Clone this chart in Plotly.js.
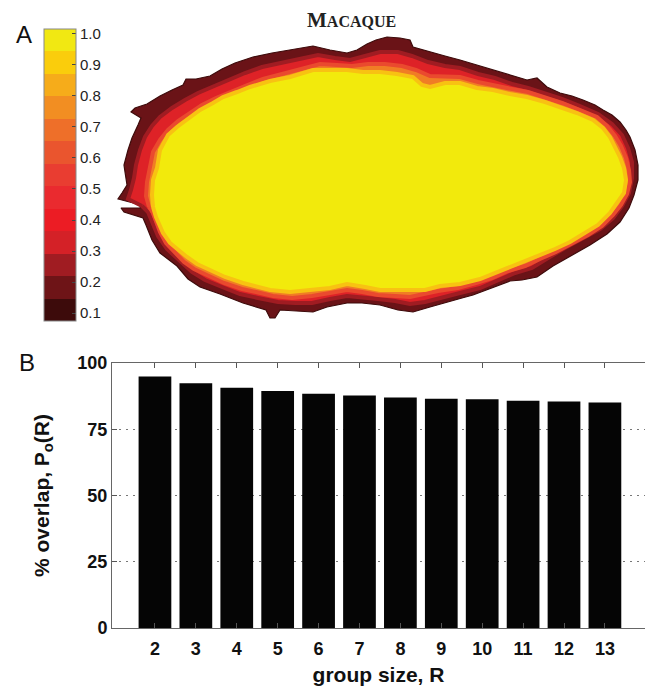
<!DOCTYPE html>
<html><head><meta charset="utf-8">
<script src="https://cdn.plot.ly/plotly-3.0.1.min.js"></script>
<style>html,body{margin:0;padding:0;background:#fff}#chart{width:645px;height:686px}</style>
</head><body><div id="chart"></div><script>
// ---- Panel B data ----
const groupSize = [2,3,4,5,6,7,8,9,10,11,12,13];
const overlapPct = [94.9,92.4,90.7,89.4,88.4,87.7,87.0,86.5,86.3,85.8,85.5,85.1];
const yTickVals = [0,25,50,75,100];

// ---- Panel A colour bar ----
const cbTickVals = [0.1,0.2,0.3,0.4,0.5,0.6,0.7,0.8,0.9,1.0];
const cbTickText = ['0.1','0.2','0.3','0.4','0.5','0.6','0.7','0.8','0.9','1.0'];
const bandColors = ['#3d0b0b','#6e1417','#a01c22','#d42127','#ec1c24','#ea2a2f','#e93d31','#ea552e','#ee6f29','#f28e22','#f6ac1a','#facd0c','#f1e812'];

// ---- Panel A map outlines (pixel coordinates) ----
const outerX = [141,118,122,127,125,124,128,132,138,141,131,135,147,160,172,183,186,196,210,222,235,253,272,290,313,330,347,357,367,376,387,400,410,413,430,445,460,477,493,512,527,537,547,560,572,583,595,603,612,620,626,630,635,638,638,634,629,620,607,590,570,553,537,522,510,492,473,462,447,430,413,398,380,362,347,327,313,295,280,275,270,266,243,220,200,188,177,160,152,146,143,124,121,140];
const outerY = [205,199,193,185,172,165,150,138,125,118,112,108,104,96,90,85,79,79,76,69,63,57,53,50,46,50,53,50,44,40,37,38,40,47,52,56,60,65,70,76,80,78,87,93,96,100,105,110,115,122,130,137,150,165,180,195,208,222,234,245,256,266,277,280,281,288,295,298,302,307,312,310,305,303,303,307,312,311,310,318,318,310,303,294,287,279,266,253,240,225,218,212,208,208];

const redX = [142,128,131,134,136,140,145,152,160,172,185,198,212,228,245,262,280,300,318,335,350,365,380,398,412,428,445,460,478,495,512,528,545,562,580,598,612,622,628,632,632,629,622,613,600,583,565,548,532,515,498,480,460,440,425,410,395,378,362,347,330,312,295,278,258,240,222,205,192,181,167,158,152,148];
const redY = [206,199,190,178,165,150,137,126,117,108,100,93,87,80,73,67,63,58,55,58,60,56,52,52,56,62,66,68,74,78,84,88,93,99,106,114,124,135,148,162,178,193,206,218,229,238,248,258,268,273,280,288,293,298,302,304,301,299,297,296,299,303,303,302,298,294,287,280,272,262,249,236,222,212];

const orangeX = [149,146,147,150,153,160,168,178,190,202,216,230,245,263,282,302,320,337,352,368,385,402,416,430,445,460,478,495,512,528,545,562,580,597,607,615,621,626,629,630,627,621,613,602,588,572,556,540,525,508,492,476,458,438,422,410,395,378,362,347,330,312,292,273,256,242,224,208,194,184,175,166,160,156,153];
const orangeY = [207,196,182,168,152,140,130,121,113,105,98,92,86,79,74,68,64,65,66,64,64,66,70,76,76,77,82,85,89,92,97,103,110,117,126,136,146,158,170,182,194,205,215,226,235,244,252,259,266,271,278,283,288,291,295,297,296,295,292,290,293,296,298,296,292,289,283,276,269,262,253,243,232,222,213];

const coreX = [153,152,153,157,160,168,177,190,200,213,223,237,250,270,290,313,330,347,363,380,397,413,422,430,445,460,477,493,510,527,545,560,577,593,603,610,615,620,624,626,624,618,610,598,585,570,555,540,525,510,495,480,460,440,425,413,395,380,365,347,330,310,290,270,255,243,225,210,197,187,178,170,163,160,156];
const coreY = [207,195,180,168,150,135,127,117,110,103,97,92,87,81,77,70,70,70,72,72,74,77,85,87,83,83,88,90,94,97,102,107,113,120,128,137,147,157,168,180,193,202,213,225,233,242,249,255,262,267,274,279,284,286,290,290,290,290,287,284,288,290,292,290,286,283,277,270,264,257,250,243,233,227,217];

function closed(a){ return a.concat([a[0]]); }
function ring(xs, ys, fill, lineColor, lineWidth){
  return {type:'scatter', mode:'lines', x:closed(xs), y:closed(ys), fill:'toself',
    fillcolor:fill, line:{color:lineColor, width:lineWidth, shape:'linear'},
    xaxis:'x2', yaxis:'y2', hoverinfo:'skip', showlegend:false};
}

// discrete colorscale
const cmin = 0.075, cmax = 1.015;
const cs = [];
bandColors.forEach((c,i)=>{ cs.push([i/bandColors.length, c]); cs.push([(i+1)/bandColors.length, c]); });

const traces = [
  ring(outerX, outerY, '#6a1317', '#3d0b0b', 1.2),
  ring(redX, redY, '#de2227', '#a01c22', 4),
  ring(orangeX, orangeY, '#f07d25', '#ea4a2e', 4),
  ring(coreX, coreY, '#f2ea0c', '#f8c212', 4),
  {type:'scatter', mode:'markers', x:[-100], y:[-100], xaxis:'x2', yaxis:'y2', hoverinfo:'skip', showlegend:false,
   marker:{color:[0.5], colorscale:cs, cmin:cmin, cmax:cmax, showscale:true, size:1,
     colorbar:{x:44/645, xanchor:'left', y:1-321/686, yanchor:'bottom', len:(321-29)/686, lenmode:'fraction',
       thickness:32, thicknessmode:'pixels', xpad:0, ypad:0, outlinewidth:1, outlinecolor:'#888',
       tickmode:'array', tickvals:cbTickVals, ticktext:cbTickText, ticks:'inside', ticklen:4, tickcolor:'#444',
       tickfont:{family:'Liberation Sans, Arial, sans-serif', size:15, color:'#222'}}}},
  {type:'bar', x:groupSize, y:overlapPct, width:0.8, marker:{color:'#050505', line:{width:0}},
   xaxis:'x', yaxis:'y', hoverinfo:'skip', showlegend:false}
];

const bold = {family:'Liberation Sans, Arial, sans-serif', weight:'bold', color:'#111'};
const layout = {
  width:645, height:686, margin:{l:0,r:0,t:0,b:0}, paper_bgcolor:'#fff', plot_bgcolor:'rgba(0,0,0,0)',
  showlegend:false,
  xaxis:{domain:[112/645, 1], range:[0.95, 13.98], tickmode:'array', tickvals:groupSize,
    ticks:'inside', ticklen:5, tickcolor:'#555', showline:true, linecolor:'#666', linewidth:1, mirror:'ticks',
    showgrid:false, zeroline:false, tickfont:Object.assign({size:18}, bold), ticklabelstandoff:4,
    title:{text:'group size, R', font:Object.assign({size:21}, bold), standoff:10}},
  yaxis:{domain:[1-628/686, 1-363/686], range:[0,100], tickmode:'array', tickvals:yTickVals,
    ticks:'inside', ticklen:5, tickcolor:'#555', showline:true, linecolor:'#666', linewidth:1, mirror:false,
    showgrid:true, gridcolor:'#777', griddash:'2px,5px', gridwidth:1, zeroline:false,
    tickfont:Object.assign({size:18}, bold),
    title:{text:'% overlap, P<sub>o</sub>(R)', font:Object.assign({size:21}, bold), standoff:22}},
  xaxis2:{domain:[0,1], range:[0,645], visible:false, fixedrange:true},
  yaxis2:{domain:[0.5,1], range:[343,0], visible:false, fixedrange:true},
  annotations:[
    {xref:'paper', yref:'paper', x:24/645, y:1-34/686, text:'A', showarrow:false, xanchor:'center', yanchor:'middle',
     font:{family:'Liberation Sans, Arial, sans-serif', size:24, color:'#111'}},
    {xref:'paper', yref:'paper', x:27/645, y:1-362/686, text:'B', showarrow:false, xanchor:'center', yanchor:'middle',
     font:{family:'Liberation Sans, Arial, sans-serif', size:24, color:'#111'}},
    {xref:'paper', yref:'paper', x:351/645, y:1-20/686, text:'M<span style="font-size:16px">ACAQUE</span>', showarrow:false,
     xanchor:'center', yanchor:'middle', font:{family:'Liberation Serif, Times New Roman, serif', size:21, weight:'bold', color:'#222'}}
  ]
};
Plotly.newPlot('chart', traces, layout, {staticPlot:true, displayModeBar:false});
</script></body></html>
